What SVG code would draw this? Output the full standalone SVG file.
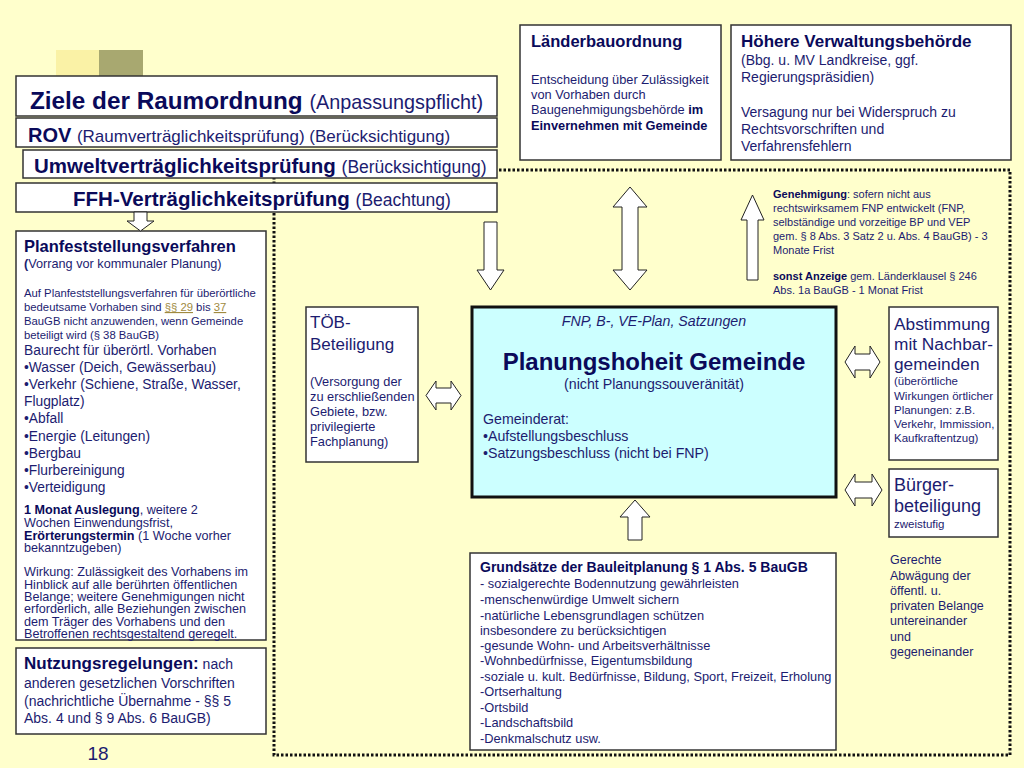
<svg xmlns="http://www.w3.org/2000/svg" width="1024" height="768" viewBox="0 0 1024 768">
<style>
text{font-family:"Liberation Sans",Arial,sans-serif;fill:#1c1c70}
.t{fill:#0a0a5a;font-weight:bold}
.box{fill:#fff;stroke:#333;stroke-width:1.5}
.arr{fill:#fff;stroke:#222;stroke-width:1}
.dot{fill:none;stroke:#111;stroke-width:3;stroke-dasharray:2.5 2}
.lnk{fill:#a08a40;text-decoration:underline}
</style>
<rect width="1024" height="768" fill="#FFFFCC"/>
<rect x="56" y="50" width="43" height="28" fill="#FAF2A6"/>
<rect x="99" y="50" width="44" height="28" fill="#A8A870"/>
<g id="frame"><rect class="dot" x="274" y="170" width="736" height="585"/></g>
<g id="ziele"><rect class="box" x="16" y="76" width="481" height="40"/>
<text x="30" y="109" font-size="24.3" class="t">Ziele der Raumordnung <tspan font-weight="normal" font-size="19.8" fill="#1c1c70">(Anpassungspflicht)</tspan></text></g>
<g id="rov"><rect class="box" x="16" y="118" width="481" height="29"/>
<text x="28" y="142" font-size="20" class="t">ROV <tspan font-weight="normal" font-size="17" fill="#1c1c70">(Raumverträglichkeitsprüfung) (Berücksichtigung)</tspan></text></g>
<g id="uvp"><rect class="box" x="23" y="150" width="474" height="28"/>
<text x="34" y="173" font-size="20.5" class="t">Umweltverträglichkeitsprüfung <tspan font-weight="normal" font-size="17.5" fill="#1c1c70">(Berücksichtigung)</tspan></text></g>
<g id="ffh"><rect class="box" x="16" y="183" width="481" height="29"/>
<text x="262" y="206" font-size="20.5" class="t" text-anchor="middle">FFH-Verträglichkeitsprüfung <tspan font-weight="normal" font-size="17.5" fill="#1c1c70">(Beachtung)</tspan></text></g>
<g id="planfest"><rect class="box" x="16" y="231" width="250" height="409"/>
<text x="24" y="252" font-size="16.5" class="t">Planfeststellungsverfahren</text>
<text x="24" y="268" font-size="12.7"><tspan font-weight="bold">(</tspan>Vorrang vor kommunaler Planung)</text>
<g font-size="11.3"><text x="24" y="297">Auf Planfeststellungsverfahren für überörtliche</text>
<text x="24" y="311">bedeutsame Vorhaben sind <tspan class="lnk">§§ 29</tspan> bis <tspan class="lnk">37</tspan></text>
<text x="24" y="325">BauGB nicht anzuwenden, wenn Gemeinde</text>
<text x="24" y="339">beteiligt wird (§ 38 BauGB)</text></g>
<g font-size="13.8"><text x="24" y="355">Baurecht für überörtl. Vorhaben</text>
<text x="24" y="372">•Wasser (Deich, Gewässerbau)</text>
<text x="24" y="389">•Verkehr (Schiene, Straße, Wasser,</text>
<text x="24" y="406">Flugplatz)</text>
<text x="24" y="423">•Abfall</text>
<text x="24" y="441">•Energie (Leitungen)</text>
<text x="24" y="458">•Bergbau</text>
<text x="24" y="475">•Flurbereinigung</text>
<text x="24" y="492">•Verteidigung</text></g>
<g font-size="12.6"><text x="24" y="514"><tspan class="t">1 Monat Auslegung</tspan>, weitere 2</text>
<text x="24" y="527">Wochen Einwendungsfrist,</text>
<text x="24" y="539.5"><tspan class="t">Erörterungstermin</tspan> (1 Woche vorher</text>
<text x="24" y="552">bekanntzugeben)</text></g>
<g font-size="12.6"><text x="24" y="576">Wirkung: Zulässigkeit des Vorhabens im</text>
<text x="24" y="588.5">Hinblick auf alle berührten öffentlichen</text>
<text x="24" y="601">Belange; weitere Genehmigungen nicht</text>
<text x="24" y="613">erforderlich, alle Beziehungen zwischen</text>
<text x="24" y="625.5">dem Träger des Vorhabens und den</text>
<text x="24" y="637.5">Betroffenen rechtsgestaltend geregelt.</text></g></g>
<g id="nutzung"><rect class="box" x="16" y="648" width="250" height="86"/>
<text x="24" y="669" font-size="14"><tspan class="t" font-size="17">Nutzungsregelungen:</tspan> nach</text>
<text x="24" y="688" font-size="14">anderen gesetzlichen Vorschriften</text>
<text x="24" y="706" font-size="14">(nachrichtliche Übernahme - §§ 5</text>
<text x="24" y="723" font-size="14">Abs. 4 und § 9 Abs. 6 BauGB)</text></g>
<text x="98" y="760" font-size="19" text-anchor="middle" fill="#0a0a5a">18</text>
<g id="laender"><rect class="box" x="520" y="25" width="201" height="135"/>
<text x="531" y="47" font-size="16.5" class="t">Länderbauordnung</text>
<g font-size="12.8"><text x="531" y="84">Entscheidung über Zulässigkeit</text>
<text x="531" y="99">von Vorhaben durch</text>
<text x="531" y="114">Baugenehmigungsbehörde <tspan class="t">im</tspan></text>
<text x="531" y="130" class="t">Einvernehmen mit Gemeinde</text></g></g>
<g id="hoehere"><rect class="box" x="731" y="25" width="280" height="135"/>
<text x="741" y="47" font-size="17" class="t">Höhere Verwaltungsbehörde</text>
<g font-size="14"><text x="741" y="65">(Bbg. u. MV Landkreise, ggf.</text>
<text x="741" y="82">Regierungspräsidien)</text>
<text x="741" y="117">Versagung nur bei Widerspruch zu</text>
<text x="741" y="134">Rechtsvorschriften und</text>
<text x="741" y="151">Verfahrensfehlern</text></g></g>
<g id="genehmigung" font-size="11"><text x="773" y="198"><tspan class="t">Genehmigung</tspan>: sofern nicht aus</text>
<text x="773" y="212">rechtswirksamem FNP entwickelt (FNP,</text>
<text x="773" y="226">selbständige und vorzeitige BP und VEP</text>
<text x="773" y="240">gem. § 8 Abs. 3 Satz 2 u. Abs. 4 BauGB) - 3</text>
<text x="773" y="254">Monate Frist</text>
<text x="773" y="280"><tspan class="t">sonst Anzeige</tspan> gem. Länderklausel § 246</text>
<text x="773" y="294">Abs. 1a  BauGB - 1 Monat Frist</text></g>
<g id="toeb"><rect class="box" x="306" y="307" width="112" height="155"/>
<text x="310" y="328" font-size="17">TÖB-</text>
<text x="310" y="350" font-size="17">Beteiligung</text>
<g font-size="12.8"><text x="310" y="386">(Versorgung der</text>
<text x="310" y="401">zu erschließenden</text>
<text x="310" y="416">Gebiete, bzw.</text>
<text x="310" y="431">privilegierte</text>
<text x="310" y="446">Fachplanung)</text></g></g>
<g id="gemeinde"><rect x="472" y="307" width="364" height="190" fill="#CCFFFF" stroke="#111" stroke-width="3"/>
<text x="654" y="326" font-size="14.2" font-style="italic" text-anchor="middle">FNP, B-, VE-Plan, Satzungen</text>
<text x="654" y="370" font-size="24" class="t" text-anchor="middle">Planungshoheit Gemeinde</text>
<text x="654" y="389" font-size="14.2" text-anchor="middle">(nicht Planungssouveränität)</text>
<text x="483" y="424" font-size="14.2">Gemeinderat:</text>
<text x="483" y="441" font-size="14.2">•Aufstellungsbeschluss</text>
<text x="483" y="458" font-size="14.2">•Satzungsbeschluss (nicht bei FNP)</text></g>
<g id="abstimmung"><rect class="box" x="889" y="307" width="109" height="153"/>
<text x="894" y="330" font-size="17.3">Abstimmung</text>
<text x="894" y="350" font-size="17.3">mit Nachbar-</text>
<text x="894" y="370" font-size="17.3">gemeinden</text>
<g font-size="11.5"><text x="894" y="385">(überörtliche</text>
<text x="894" y="400">Wirkungen örtlicher</text>
<text x="894" y="414">Planungen: z.B.</text>
<text x="894" y="428">Verkehr, Immission,</text>
<text x="894" y="442">Kaufkraftentzug)</text></g></g>
<g id="buerger"><rect class="box" x="889" y="469" width="109" height="68"/>
<text x="894" y="491" font-size="18">Bürger-</text>
<text x="894" y="512" font-size="18">beteiligung</text>
<text x="894" y="528" font-size="11.5">zweistufig</text></g>
<g id="abwaegung" font-size="12.5"><text x="890" y="564">Gerechte</text>
<text x="890" y="580">Abwägung der</text>
<text x="890" y="595">öffentl. u.</text>
<text x="890" y="610">privaten Belange</text>
<text x="890" y="625">untereinander</text>
<text x="890" y="641">und</text>
<text x="890" y="656">gegeneinander</text></g>
<g id="grundsaetze"><rect class="box" x="470" y="553" width="366" height="197"/>
<text x="480" y="572" font-size="14" class="t">Grundsätze der Bauleitplanung § 1 Abs. 5 BauGB</text>
<g font-size="12.8"><text x="480" y="588">- sozialgerechte Bodennutzung gewährleisten</text>
<text x="480" y="604">-menschenwürdige Umwelt sichern</text>
<text x="480" y="620">-natürliche Lebensgrundlagen schützen</text>
<text x="480" y="635">insbesondere zu berücksichtigen</text>
<text x="480" y="650">-gesunde Wohn- und Arbeitsverhältnisse</text>
<text x="480" y="665">-Wohnbedürfnisse, Eigentumsbildung</text>
<text x="480" y="681">-soziale u. kult. Bedürfnisse, Bildung, Sport, Freizeit, Erholung</text>
<text x="480" y="696">-Ortserhaltung</text>
<text x="480" y="712">-Ortsbild</text>
<text x="480" y="727">-Landschaftsbild</text>
<text x="480" y="743">-Denkmalschutz  usw.</text></g></g>
<g id="connectors">
<polygon class="arr" points="134,212 147,212 147,221 154,221 140.5,231 127,221 134,221"/>
<polygon class="arr" points="484,222 497,222 497,270 504,270 490.5,290 477,270 484,270"/>
<polygon class="arr" points="630,187 647,207 638,207 638,270 647,270 630,290 613,270 622,270 622,207 613,207"/>
<polygon class="arr" points="752.5,195 764,220 758,220 758,280 747,280 747,220 741,220"/>
<polygon class="arr" points="635,500 650,517 642,517 642,540 628,540 628,517 620,517"/>
<polygon class="arr" points="426,395.5 436,381 436,388 451,388 451,381 461,395.5 451,410 451,403 436,403 436,410"/>
<polygon class="arr" points="845,362 855,346 855,354 870,354 870,346 880,362 870,378 870,370 855,370 855,378"/>
<polygon class="arr" points="845,490 855,474 855,482 872,482 872,474 882,490 872,506 872,498 855,498 855,506"/>
</g>
</svg>
